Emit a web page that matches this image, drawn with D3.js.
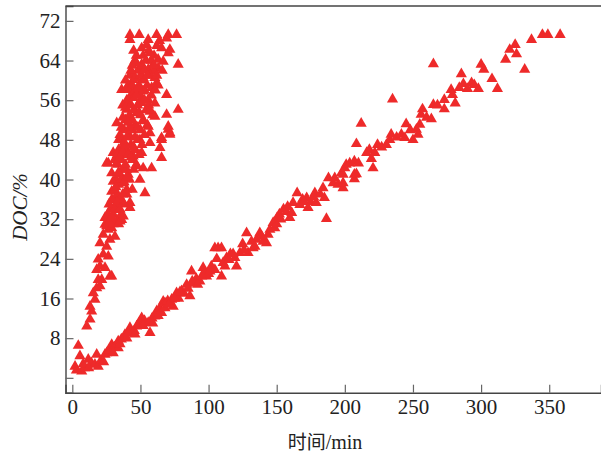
<!DOCTYPE html>
<html>
<head>
<meta charset="utf-8">
<script src="https://cdn.jsdelivr.net/npm/d3@7"></script>
<style>
  body { margin: 0; background: #fff; }
  svg { display: block; }
</style>
</head>
<body>
<div class="container"></div>
<script>
// fast series (steep cloud): [time in min, DOC %]
const fastPoints = [
  [10.6,10.4],[13,11.8],[14.2,13.4],[13,14.4],[16.6,15.8],[15.4,17.1],[17.9,18.1],[20.3,18.5],
  [21.6,19.8],[19,19.8],[27.6,20.5],[28.9,20.5],[17.9,21.8],[20.3,22.5],[24,22.2],[19,23.9],
  [22.7,24.9],[26.4,24.5],[20.3,27.2],[25.2,26.5],[27.6,27.9],[22.7,28.9],[26.4,29.9],[24,30.9],
  [31.3,31.2],[35,31.6],[28.9,30.2],[31.3,28.5],[24,32.3],[30,31.6],[36.2,31.9],[25.2,30.6],
  [33.7,31.9],[37.4,32.6],[42.3,34.3],[33.7,33.9],[36.2,35.9],[42.3,35.3],[31.3,35.9],[28.9,37.6],
  [30,39.6],[28.9,41.3],[26.4,43.3],[25.2,43.3],[32.6,43.3],[30,45.4],[37.4,39.3],[39.9,38.0],
  [53.3,37.3],[52,42.3],[58.2,42.3],[39.9,42.0],[47.2,42.7],[49.6,40.0],[44.7,44.7],[50.9,45.4],
  [37.4,46.7],[42.3,48.7],[49.6,48.0],[57,47.4],[64.3,46.4],[65.5,44.4],[65.5,48.4],[71.6,49.4],
  [65.5,48.0],[70.4,50.1],[71.6,49.1],[57,49.4],[55.7,50.7],[32.6,51.4],[42.3,52.1],[52,51.8],
  [70.4,50.7],[60.6,52.7],[39.9,54.1],[47.2,53.4],[57,53.7],[69.2,53.1],[77.7,54.1],[42.3,55.4],
  [49.6,55.8],[55.7,56.1],[60.6,55.4],[36.2,58.1],[42.3,58.1],[44.7,57.1],[52,57.8],[58.2,58.5],
  [69.2,57.1],[42.3,61.1],[44.7,60.1],[52,60.5],[60.6,60.5],[61.9,59.5],[50.9,63.2],[49.6,62.2],
  [55.7,62.2],[63,62.5],[59.4,61.8],[63,64.2],[66.7,63.8],[77.7,63.2],[50.9,66.5],[54.5,67.2],
  [65.5,66.5],[70.4,65.5],[71.6,66.2],[42.3,68.2],[55.7,68.2],[69.2,68.5],[42.3,69.2],[49.1,69.2],
  [61.9,69.2],[70.4,69.2],[76.5,69.2],
  [26,33],[28,34],[30,33],[32,35],[29,36],[33,37],[31,38],[34,39],[35,36],[27,35],[30,31],
  [32,40],[35,41],[37,42],[33,43],[36,44],[38,45],[34,46],[31,44],[39,43],[41,41],[40,46],
  [43,47],[36,48],[38,50],[41,49],[44,50],[46,51],[35,49],[39,52],[42,53],[45,54],[48,55],
  [37,55],[40,56],[43,57],[46,58],[49,59],[52,60],[45,61],[48,62],[51,63],[54,64],[47,65],
  [50,57],[53,58],[55,59],[44,44],[46,46],[48,48],[50,50],[52,52],[54,54],[56,55],[58,57],
  [47,43],[49,45],[51,47],[53,49],[55,51],[42,40],[44,38],[40,37],[38,35],[36,33],[34,31],
  [45,42],[57,61],[59,63],[56,66],[58,64],[60,65],[62,67],[64,68],[66,62],[63,59],[61,58],
  [59,53],[57,54],[41,59],[39,60],[43,62],[46,64],
  [27,31.5],[29,32.5],[31,34],[33,35.5],[35,34],[37,37],[32,38.5],[34,41.5],[36,40],[38,39.5],
  [40,40.5],[33,45],[35,44.5],[37,45.5],[39,47],[41,45],[43,44.5],[45,46.5],[34,48],[36,50.5],
  [38,47.5],[40,48.5],[42,50.5],[44,52],[46,48.5],[48,50.5],[50,53],[37,52.5],[39,54.5],[41,51.5],
  [43,55],[45,56.5],[47,57],[49,53.5],[51,55.5],[53,56],[40,58.5],[44,59],[46,60.5],[48,58.5],
  [50,61],[53,62],[55,61],[47,63.5],[52,65],[57,65.5],[60,63],[62,61],[44,63],[45,66]
];

// slow series (long line)
const slowPoints = [
  [2,2.3],[4.4,6.5],[5.6,4.4],[6.9,1.3],[3,1.5],[9,2],[11.7,3.7],[14,3],[16.6,2.7],[17.9,4.7],
  [19,2.3],[21,3.5],[24,4.7],[25.2,5.0],[27,5.5],[28.9,6.7],[31,6.2],[33.7,7.4],[33.7,6.0],[36,7.8],
  [38.6,8.7],[40,8],[42.3,10.1],[44.7,9.1],[45.5,9.5],[47.2,10.4],[49,11],[50.9,12.1],[53,11.5],
  [55.7,11.1],[57,9.1],[58.5,12],[60.6,12.4],[62,13.5],[64.3,14.1],[65.5,13.1],[66.7,15.4],[68,15.1],
  [68,14.1],[70,15.5],[72.9,15.8],[74,14.4],[76.5,17.1],[78,16],[80.2,17.5],[82,17],[83.9,18.8],
  [86.3,16.5],[87.5,21.5],[89,19],[91,20],[93.6,19.5],[96,22.2],[98.5,20.5],[100,21],[102,22.5],
  [104.6,21.8],[104.6,26.2],[107,26.2],[109.5,26.2],[106,24],[109.5,20.5],[110.7,23.2],[113.2,24.2],
  [116,25],[119.3,24.2],[120.5,22.5],[123,25.2],[125,27],[127.9,29.2],[129,25.2],[131.5,27.5],
  [132.7,26.2],[135.2,27.9],[137.6,29.2],[140,27.5],[142.5,27.2],[143.7,28.9],[145,29.9],[147.4,31.3],
  [148.6,30.2],[150.3,32.3],[152,33],[155,34],[157,33.5],[159.6,32.3],[161,33.3],[162,35.3],[165,37.3],
  [167,34.9],[169,36],[172,36.3],[173,34.3],[175,35.5],[178,37.3],[179,35.3],[182,37],[184,38.3],
  [185,36.3],[186.5,32.1],[188,40.3],[191.4,39.3],[192.6,40.3],[195,39],[197.5,41.3],[198.7,38.3],
  [198.7,41.0],[198.7,39.3],[200,42.3],[201,43],[203.6,43.3],[207,41],[207,43.7],[207,40.1],
  [208.5,41.1],[208.5,47.2],[210,43.3],[212,51.3],[216,45.4],[218,46.0],[219.5,44.2],[220.7,42.3],
  [222,45.4],[224,47.0],[227,46.5],[230.5,47.0],[233,48.0],[234,49.1],[235,56.2],[238,48.5],
  [241.5,49.1],[244,48.4],[245,51.2],[248,50],[250,48.0],[252.5,50.1],[253.7,49.1],[255,51.1],
  [256,53.1],[257,54.2],[260,52.5],[263.5,52.2],[265,55.1],[265,63.3],[268,55],[273,56.1],[273,54.2],
  [278,58.1],[279,57.1],[281,55.4],[284,58.5],[285.5,61.3],[287,59.3],[290,58.3],[293,59.5],
  [295,59.1],[298,58.3],[300,63.2],[302,62.2],[308,60.3],[312,58.3],[318,64.2],[321,66.2],
  [325,67.2],[326,65.3],[332,62.2],[337,68.2],[345,69.2],[349,69.2],[358,69.2],
  [8,2.8],[12,2],[23,3.2],[30,5],[35,6.8],[41,9],[46,8.8],[52,10.5],[59,11],[63,12.5],
  [71,14.8],[75,16],[79,17.3],[85,18],[88,19.5],[92,18.8],[95,20.5],[97,21],[101,21.5],[112,22.5],
  [115,23.8],[118,25],[126,25.8],[134,26.5],[139,28.5],[150,31],[153,32],[158,34.5],[170,35.5],[177,36.5]
];

const xTicks = [0, 50, 100, 150, 200, 250, 300, 350];
const yTicks = [0, 8, 16, 24, 32, 40, 48, 56, 64, 72];

const W = 601, H = 456;
const plot = {left: 65.5, right: 601, top: 6, bottom: 392.7};

const svg = d3.select(".container")
  .append("svg")
  .attr("width", W)
  .attr("height", H);

const xScale = d3.scaleLinear().domain([-5, 388]).range([plot.left, plot.right]);
const yScale = d3.scaleLinear().domain([-3, 75]).range([plot.bottom, plot.top]);

const fontSerif = "'Liberation Serif', 'Times New Roman', serif";

// frame top line
svg.append("line")
  .attr("x1", plot.left).attr("x2", plot.right)
  .attr("y1", plot.top).attr("y2", plot.top)
  .attr("stroke", "#444").attr("stroke-width", 1.4);

const yAxis = svg.append("g")
  .attr("transform", "translate(" + plot.left + ",0)")
  .call(d3.axisLeft(yScale).tickValues(yTicks).tickSize(-8).tickPadding(5)
    .tickFormat(d => d === 0 ? "" : d));

const xAxis = svg.append("g")
  .attr("transform", "translate(0," + plot.bottom + ")")
  .call(d3.axisBottom(xScale).tickValues(xTicks).tickSize(-8).tickPadding(6));

[xAxis, yAxis].forEach(g => {
  g.select(".domain").attr("stroke", "#444").attr("stroke-width", 1.4);
  g.selectAll(".tick line").attr("stroke", "#666").attr("stroke-width", 1.2);
  g.selectAll(".tick text")
    .attr("fill", "#222")
    .style("font-family", fontSerif)
    .style("font-size", "21px");
});

// points
const tri = d3.symbol().type(d3.symbolTriangle).size(54);

svg.append("g")
  .selectAll("path")
  .data(slowPoints.concat(fastPoints))
  .enter()
  .append("path")
  .attr("d", tri)
  .attr("transform", d => "translate(" + xScale(d[0]) + "," + yScale(d[1]) + ")")
  .attr("fill", "#ee2a2a");

// axis titles
svg.append("text")
  .attr("transform", "translate(27,207) rotate(-90)")
  .attr("text-anchor", "middle")
  .style("font-family", fontSerif)
  .style("font-style", "italic")
  .style("font-size", "21px")
  .attr("fill", "#222")
  .text("DOC/%");

const xt = svg.append("text")
  .attr("x", 325)
  .attr("y", 449)
  .attr("text-anchor", "middle")
  .attr("fill", "#222")
  .style("font-size", "20px");
xt.append("tspan").style("font-family", "'Noto Sans CJK SC'").style("font-size", "19px").text("时间");
xt.append("tspan").style("font-family", fontSerif).text("/min");
</script>
</body>
</html>
